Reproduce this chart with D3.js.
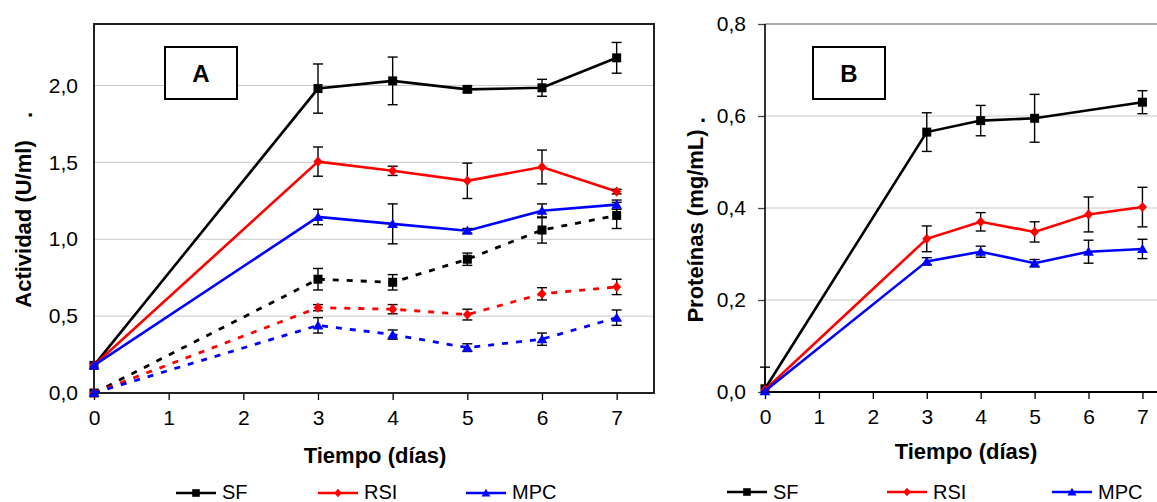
<!DOCTYPE html>
<html><head><meta charset="utf-8">
<script src="https://cdn.jsdelivr.net/npm/d3@7"></script>
<style>
body{margin:0;background:#fff;}
svg{display:block;font-family:"Liberation Sans",Arial,sans-serif;}
</style></head><body>
<svg id="c" width="1157" height="502"></svg>
<script>
// ---------- DATA ----------
const daysA = [0, 3, 4, 5, 6, 7];
const sfA = [0.18, 1.98, 2.03, 1.975, 1.985, 2.18];
const sfAErr = [0, 0.16, 0.155, 0.02, 0.055, 0.10];
const rsiA = [0.18, 1.505, 1.445, 1.38, 1.47, 1.31];
const rsiAErr = [0, 0.095, 0.03, 0.115, 0.11, 0.015];
const mpcA = [0.18, 1.145, 1.10, 1.055, 1.185, 1.225];
const mpcAErr = [0, 0.05, 0.13, 0.015, 0.045, 0.03];
const sfAd = [0, 0.74, 0.72, 0.87, 1.06, 1.155];
const sfAdErr = [0, 0.07, 0.05, 0.04, 0.085, 0.085];
const rsiAd = [0, 0.555, 0.545, 0.51, 0.645, 0.69];
const rsiAdErr = [0, 0.02, 0.03, 0.035, 0.04, 0.05];
const mpcAd = [0, 0.44, 0.38, 0.295, 0.35, 0.49];
const mpcAdErr = [0, 0.05, 0.03, 0.025, 0.04, 0.05];

const daysBsf = [0, 3, 4, 5, 7];
const sfB = [0.007, 0.565, 0.59, 0.595, 0.63];
const sfBErr = [0.047, 0.042, 0.033, 0.052, 0.025];
const daysB = [0, 3, 4, 5, 6, 7];
const rsiB = [0.005, 0.333, 0.37, 0.348, 0.386, 0.402];
const rsiBErr = [0, 0.028, 0.02, 0.022, 0.038, 0.043];
const mpcB = [0.002, 0.284, 0.305, 0.28, 0.305, 0.311];
const mpcBErr = [0, 0.008, 0.012, 0.008, 0.025, 0.021];

const xTicks = [0, 1, 2, 3, 4, 5, 6, 7];
const yTicksA = [0, 0.5, 1.0, 1.5, 2.0];
const yTicksB = [0, 0.2, 0.4, 0.6, 0.8];
const seriesNames = ["SF", "RSI", "MPC"];
const seriesColors = ["#000000", "#ff0000", "#0000ff"];
const markerTypes = ["square", "diamond", "triangle"];

// ---------- HELPERS ----------
const svg = d3.select("#c");
const fmt = v => d3.format(".1f")(v).replace(".", ",");

function markerPath(type, s) {
  if (type === "square") return `M${-s},${-s}H${s}V${s}H${-s}Z`;
  if (type === "diamond") return `M0,${-s*1.15}L${s},0L0,${s*1.15}L${-s},0Z`;
  return `M0,${-s*1.1}L${s*1.2},${s*0.9}L${-s*1.2},${s*0.9}Z`;
}

function drawSeries(g, x, y, days, vals, errs, color, mtype, dashed, y0) {
  const pts = days.map((d, i) => ({d, v: vals[i], e: errs[i]}));
  const line = d3.line().x(p => x(p.d)).y(p => y(p.v));
  g.append("path").datum(pts).attr("d", line)
    .attr("fill", "none").attr("stroke", color).attr("stroke-width", dashed ? 2.8 : 2.6)
    .attr("stroke-dasharray", dashed ? "6,8" : null);
  const eb = g.append("g");
  pts.filter(p => p.e > 0).forEach(p => {
    const lo = Math.max(y0, p.v - p.e), hi = p.v + p.e;
    eb.append("line").attr("x1", x(p.d)).attr("x2", x(p.d))
      .attr("y1", y(lo)).attr("y2", y(hi)).attr("stroke", "#000").attr("stroke-width", 1.4);
    [hi, p.v - p.e >= y0 ? lo : null].forEach(v => {
      if (v === null) return;
      eb.append("line").attr("x1", x(p.d) - 5).attr("x2", x(p.d) + 5)
        .attr("y1", y(v)).attr("y2", y(v)).attr("stroke", "#000").attr("stroke-width", 1.4);
    });
  });
  g.selectAll(null).data(pts).enter().append("path")
    .attr("transform", p => `translate(${x(p.d)},${y(p.v)})`)
    .attr("d", markerPath(mtype, 4.5)).attr("fill", color);
}

function legend(xs, yc) {
  xs.forEach((lx, i) => {
    const g = svg.append("g");
    g.append("line").attr("x1", lx).attr("x2", lx + 40).attr("y1", yc).attr("y2", yc)
      .attr("stroke", seriesColors[i]).attr("stroke-width", 2.6);
    g.append("path").attr("transform", `translate(${lx + 20},${yc})`)
      .attr("d", markerPath(markerTypes[i], 3.8)).attr("fill", seriesColors[i]);
    g.append("text").attr("x", lx + 46).attr("y", 499).attr("font-size", 20)
      .attr("fill", "#000").text(seriesNames[i]);
  });
}

// ---------- PANEL A ----------
const xA = d3.scaleLinear().domain([0, 7.5]).range([94, 654]);
const yA = d3.scaleLinear().domain([0, 2.4]).range([393, 24]);
const gA = svg.append("g");
gA.selectAll(null).data(yTicksA.filter(v => v > 0)).enter().append("line")
  .attr("x1", xA(0)).attr("x2", xA(7.5)).attr("y1", d => yA(d)).attr("y2", d => yA(d))
  .attr("stroke", "#c8c8c8").attr("stroke-width", 1);
const axA = gA.append("g").attr("transform", `translate(0,${yA(0)})`)
  .call(d3.axisBottom(xA).tickValues(xTicks).tickFormat(d3.format("d")).tickSize(7).tickPadding(10));
axA.select(".domain").remove();
axA.selectAll("line").attr("stroke", "#000").attr("stroke-width", 1.3);
axA.selectAll("text").attr("font-size", 21).attr("fill", "#000").attr("font-family", null);
const ayA = gA.append("g").attr("transform", `translate(${xA(0)},0)`)
  .call(d3.axisLeft(yA).tickValues(yTicksA).tickFormat(fmt).tickSize(0).tickPadding(16));
ayA.select(".domain").remove();
ayA.selectAll("text").attr("font-size", 21).attr("fill", "#000").attr("font-family", null);
gA.append("rect").attr("x", xA(0)).attr("y", yA(2.4)).attr("width", xA(7.5) - xA(0))
  .attr("height", yA(0) - yA(2.4)).attr("fill", "none").attr("stroke", "#222").attr("stroke-width", 2);

const sA = gA.append("g");
drawSeries(sA, xA, yA, daysA, sfAd, sfAdErr, seriesColors[0], "square", true, 0);
drawSeries(sA, xA, yA, daysA, rsiAd, rsiAdErr, seriesColors[1], "diamond", true, 0);
drawSeries(sA, xA, yA, daysA, mpcAd, mpcAdErr, seriesColors[2], "triangle", true, 0);
drawSeries(sA, xA, yA, daysA, sfA, sfAErr, seriesColors[0], "square", false, 0);
drawSeries(sA, xA, yA, daysA, rsiA, rsiAErr, seriesColors[1], "diamond", false, 0);
drawSeries(sA, xA, yA, daysA, mpcA, mpcAErr, seriesColors[2], "triangle", false, 0);

gA.append("rect").attr("x", 165).attr("y", 47).attr("width", 72).attr("height", 52)
  .attr("fill", "#fff").attr("stroke", "#000").attr("stroke-width", 2);
gA.append("text").attr("x", 201).attr("y", 82).attr("text-anchor", "middle")
  .attr("font-size", 24).attr("font-weight", "bold").text("A");

svg.append("text").attr("transform", "translate(31,224) rotate(-90)").attr("text-anchor", "middle")
  .attr("font-size", 22).attr("font-weight", "bold").text("Actividad (U/ml)");
svg.append("text").attr("transform", "translate(32,115) rotate(-90)").attr("text-anchor", "middle")
  .attr("font-size", 22).attr("font-weight", "bold").text(".");
svg.append("text").attr("x", 375).attr("y", 463).attr("text-anchor", "middle")
  .attr("font-size", 22).attr("font-weight", "bold").text("Tiempo (días)");
legend([176, 318, 466], 493);

// ---------- PANEL B ----------
const xB = d3.scaleLinear().domain([0, 7.27]).range([765, 1157]);
const yB = d3.scaleLinear().domain([0, 0.8]).range([392, 24]);
const gB = svg.append("g");
gB.selectAll(null).data(yTicksB.filter(v => v > 0)).enter().append("line")
  .attr("x1", xB(0)).attr("x2", 1157).attr("y1", d => yB(d)).attr("y2", d => yB(d))
  .attr("stroke", d => d === 0.8 ? "#8c8c8c" : "#c8c8c8").attr("stroke-width", d => d === 0.8 ? 1.5 : 1);
const axB = gB.append("g").attr("transform", `translate(0,${yB(0)})`)
  .call(d3.axisBottom(xB).tickValues(xTicks).tickFormat(d3.format("d")).tickSize(7).tickPadding(10));
axB.select(".domain").remove();
axB.selectAll("line").attr("stroke", "#000").attr("stroke-width", 1.3);
axB.selectAll("text").attr("font-size", 21).attr("fill", "#000").attr("font-family", null);
const ayB = gB.append("g").attr("transform", `translate(${xB(0)},0)`)
  .call(d3.axisLeft(yB).tickValues(yTicksB).tickFormat(fmt).tickSize(7).tickPadding(12));
ayB.select(".domain").remove();
ayB.selectAll("line").attr("stroke", "#444").attr("stroke-width", 1.3);
ayB.selectAll("text").attr("font-size", 21).attr("fill", "#000").attr("font-family", null);
gB.append("line").attr("x1", xB(0)).attr("x2", xB(0)).attr("y1", yB(0.8)).attr("y2", yB(0))
  .attr("stroke", "#000").attr("stroke-width", 1.6);
gB.append("line").attr("x1", xB(0)).attr("x2", 1157).attr("y1", yB(0)).attr("y2", yB(0))
  .attr("stroke", "#000").attr("stroke-width", 2);

const sB = gB.append("g");
drawSeries(sB, xB, yB, daysBsf, sfB, sfBErr, seriesColors[0], "square", false, 0);
drawSeries(sB, xB, yB, daysB, rsiB, rsiBErr, seriesColors[1], "diamond", false, 0);
drawSeries(sB, xB, yB, daysB, mpcB, mpcBErr, seriesColors[2], "triangle", false, 0);

gB.append("rect").attr("x", 813).attr("y", 47).attr("width", 72).attr("height", 52)
  .attr("fill", "#fff").attr("stroke", "#000").attr("stroke-width", 2);
gB.append("text").attr("x", 849).attr("y", 82).attr("text-anchor", "middle")
  .attr("font-size", 24).attr("font-weight", "bold").text("B");

svg.append("text").attr("transform", "translate(703,226) rotate(-90)").attr("text-anchor", "middle")
  .attr("font-size", 22).attr("font-weight", "bold").text("Proteínas (mg/mL)");
svg.append("text").attr("x", 703).attr("y", 122).attr("text-anchor", "middle")
  .attr("font-size", 22).attr("font-weight", "bold").text(".");
svg.append("text").attr("x", 966).attr("y", 459).attr("text-anchor", "middle")
  .attr("font-size", 22).attr("font-weight", "bold").text("Tiempo (días)");
legend([727, 887, 1052], 492);
</script>
</body></html>
